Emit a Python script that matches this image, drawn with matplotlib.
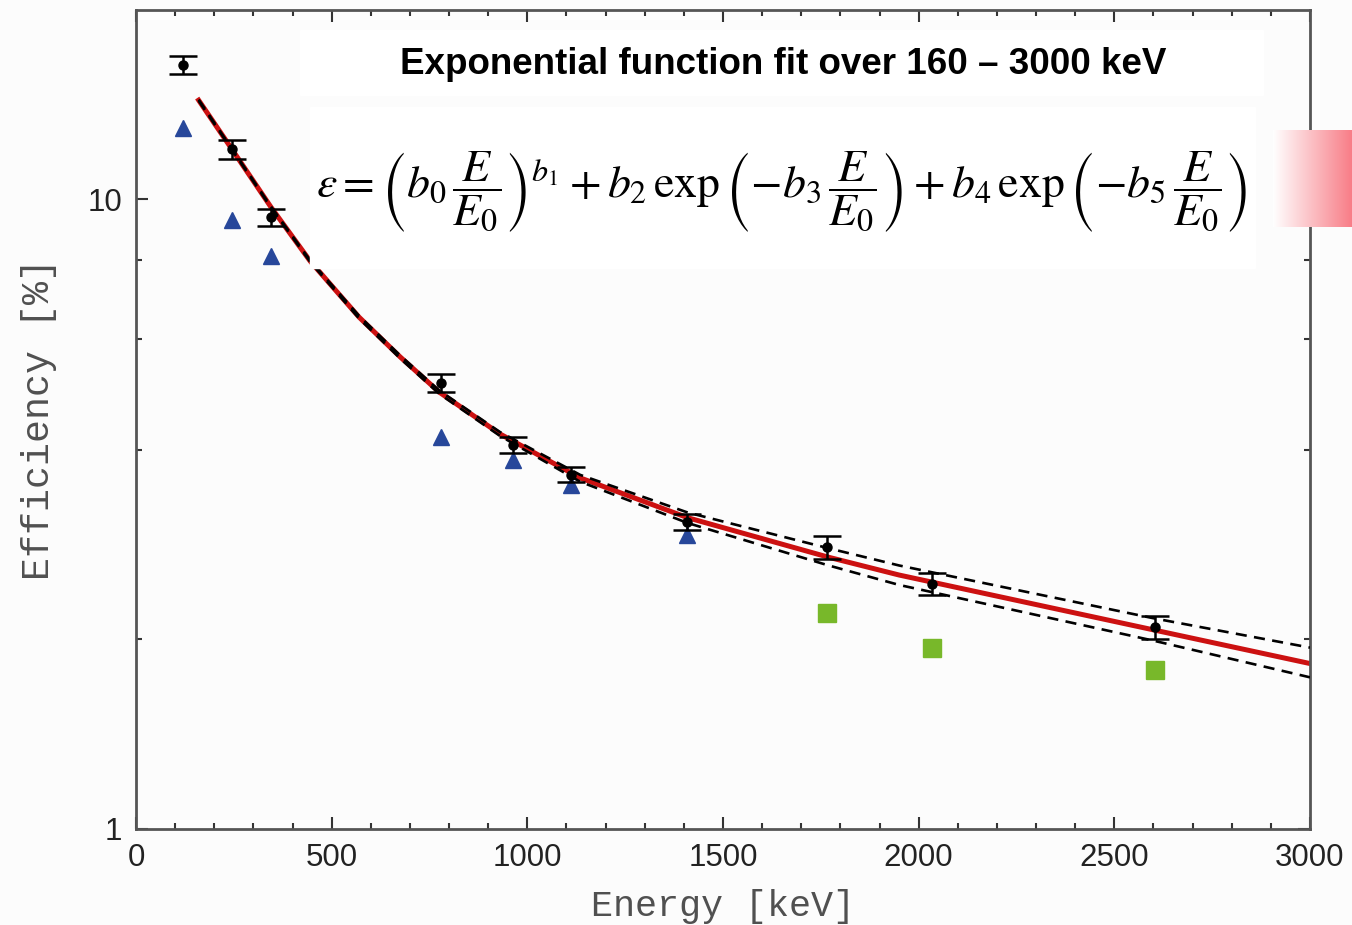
import numpy as np
import matplotlib
matplotlib.use("Agg")
import matplotlib.pyplot as plt
from matplotlib.patches import Rectangle
from matplotlib.ticker import FixedLocator, NullFormatter, FuncFormatter

# measured efficiencies (black points with error bars)
meas_E = [120, 245, 344, 779, 964, 1112, 1408, 1765, 2035, 2605]
meas_eff = [16.35, 12.02, 9.37, 5.11, 4.07, 3.65, 3.07, 2.80, 2.45, 2.09]
meas_err = [0.53, 0.42, 0.30, 0.17, 0.12, 0.10, 0.09, 0.12, 0.10, 0.09]

# blue triangles
tri_E = [120, 245, 344, 779, 964, 1112, 1408]
tri_eff = [12.98, 9.29, 8.12, 4.19, 3.85, 3.52, 2.93]

# green squares
sq_E = [1765, 2035, 2605]
sq_eff = [2.20, 1.94, 1.79]

# fitted curve and its dashed confidence band
fit_E = [160, 245, 345, 445, 570, 675, 775, 930, 1135, 1410, 1770, 1950, 2600, 3000]
fit_eff = [14.38, 12.02, 9.72, 7.98, 6.50, 5.62, 4.94, 4.24, 3.61, 3.12, 2.70, 2.53, 2.07, 1.83]
band_hi = [14.41, 12.04, 9.74, 8.00, 6.53, 5.65, 4.97, 4.27, 3.65, 3.18, 2.79, 2.62, 2.16, 1.94]
band_lo = [14.35, 12.00, 9.70, 7.96, 6.47, 5.59, 4.91, 4.21, 3.56, 3.06, 2.62, 2.44, 1.99, 1.74]

title = "Exponential function fit over 160 \u2013 3000 keV"
formula = (r"$\varepsilon = \left(b_0\,\dfrac{E}{E_0}\right)^{b_1} + b_2\,\exp\left(-b_3\,\dfrac{E}{E_0}\right)"
           r"+ b_4\,\exp\left(-b_5\,\dfrac{E}{E_0}\right)$")

W, H = 1352, 925
plt.rcParams["mathtext.fontset"] = "stix"
fig = plt.figure(figsize=(W / 100, H / 100), dpi=100, facecolor="#fcfcfc")
ax = fig.add_axes([136 / W, 1 - 828.7 / H, (1310 - 136) / W, (828.7 - 10) / H])
ax.set_facecolor("#fcfcfc")


def px_box(x0, y0, x1, y1):
    return [x0 / W, 1 - y1 / H, (x1 - x0) / W, (y1 - y0) / H]


ax.plot(fit_E, fit_eff, color="#cc1111", lw=3.6, zorder=2)
for b in (band_hi, band_lo):
    ax.plot(fit_E, b, color="black", lw=1.9, linestyle=(0, (4.2, 2.8)), zorder=3)

ax.errorbar(meas_E, meas_eff, yerr=meas_err, fmt="o", color="black", ms=6.5,
            elinewidth=1.8, capsize=10, capthick=1.8, zorder=5)
ax.plot(tri_E, tri_eff, "^", color="#27479a", ms=11, zorder=4)
ax.plot(sq_E, sq_eff, "s", color="#78b82a", ms=13, zorder=4)

ax.set_xlim(0, 3000)
ax.set_yscale("log")
ax.set_ylim(1, 20)
ax.xaxis.set_major_locator(FixedLocator(np.arange(0, 3001, 500)))
ax.xaxis.set_minor_locator(FixedLocator(np.arange(0, 3001, 100)))
ax.yaxis.set_major_locator(FixedLocator([1, 10]))
ax.yaxis.set_major_formatter(FuncFormatter(lambda v, p: "%d" % v))
ax.yaxis.set_minor_locator(FixedLocator([2, 4, 6, 8]))
ax.yaxis.set_minor_formatter(NullFormatter())

ax.tick_params(which="both", direction="in", top=True, right=True, width=1.5,
               color="#333333", labelsize=22.5, labelcolor="#222222")
ax.tick_params(which="major", length=8.5, pad=10)
ax.tick_params(which="minor", length=4.5)
for lab in ax.get_xticklabels() + ax.get_yticklabels():
    lab.set_family("Liberation Sans")
for s in ax.spines.values():
    s.set_color("#555555")
    s.set_linewidth(2)

ax.set_xlabel("Energy [keV]", family="Liberation Mono", fontsize=26.5, color="#505050", labelpad=12)
ax.set_ylabel("Efficiency [%]", family="Liberation Mono", fontsize=27.5, color="#505050", labelpad=22)

# white boxes with title and formula
fig.patches.append(Rectangle((300 / W, 1 - 95 / H), 963 / W, 65 / H,
                             transform=fig.transFigure, color="white", zorder=10))
fig.patches.append(Rectangle((310 / W, 1 - 268 / H), 945 / W, 161 / H,
                             transform=fig.transFigure, color="white", zorder=10))
fig.text(783 / W, 1 - 65 / H, title, ha="center", va="center", fontsize=26.5,
         fontweight="bold", family="Liberation Sans", zorder=11)
fig.text(782 / W, 1 - 192 / H, formula, ha="center", va="center", fontsize=33, zorder=11)

# pink gradient box at the right edge
gax = fig.add_axes(px_box(1273, 130, 1352, 227))
grad = np.linspace(0, 1, 256)[None, :, None]
white = np.array([1.0, 1.0, 1.0])[None, None, :]
pink = np.array([248, 125, 135])[None, None, :] / 255
gax.imshow(white + (pink - white) * grad, aspect="auto", interpolation="bilinear")
gax.axis("off")

fig.savefig("out.png", dpi=100, facecolor=fig.get_facecolor())
